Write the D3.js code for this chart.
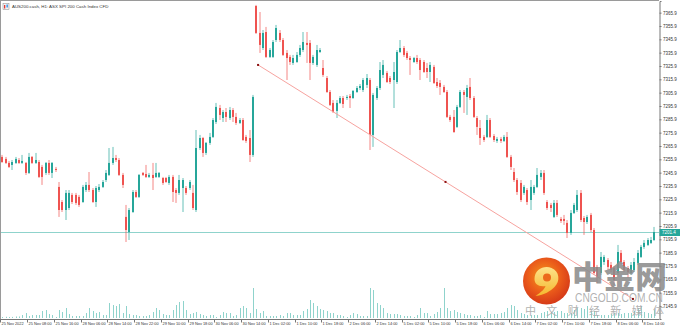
<!DOCTYPE html>
<html><head><meta charset="utf-8">
<script src="https://cdn.jsdelivr.net/npm/d3@7"></script>
<style>html,body{margin:0;padding:0;background:#fff;}svg{display:block;}</style>
</head><body>
<svg id="c" width="680" height="329"></svg>
<script>
const chartTitle = "AUS200.cash, H1:  ASX SPI 200 Cash Index CFD";
const open = [
7257.7,7256.2,7253.2,7251.7,7253.2,7255.4,7253.2,7253.2,7245.7,7257.7,
7253.2,7253.9,7250.2,7245.7,7253.2,7245.7,7248.7,7235.2,7223.9,7217.9,
7219.4,7229.2,7229.2,7227.7,7223.9,7232.9,7236.7,7232.9,7223.9,7232.9,
7235.2,7240.4,7244.2,7253.2,7256.9,7255.4,7244.2,7212.7,7201.4,7216.4,
7231.4,7227.7,7245.7,7244.9,7242.7,7244.2,7242.7,7242.7,7241.9,7241.9,
7238.2,7242.7,7232.9,7230.7,7234.4,7234.4,7234.4,7230.7,7217.9,7264.4,
7271.9,7260.7,7268.2,7272.7,7283.9,7294.4,7286.9,7291.4,7286.9,7292.9,
7287.7,7283.2,7285.4,7272.7,7271.9,7259.2,7370.9,7350.7,7339.4,7351.4,
7332.7,7332.7,7345.4,7350.7,7345.4,7335.7,7332.7,7328.2,7328.9,7334.2,
7337.9,7343.2,7343.2,7328.2,7326.7,7336.4,7324.4,7316.9,7306.4,7298.2,
7292.2,7298.2,7301.9,7301.9,7303.4,7301.9,7306.4,7309.4,7307.9,7311.7,
7315.4,7274.2,7301.9,7309.4,7319.2,7320.7,7316.9,7315.4,7313.9,7336.4,
7339.4,7335.7,7331.9,7328.9,7331.9,7330.4,7328.9,7324.4,7321.4,7325.2,
7313.9,7313.2,7310.2,7306.4,7287.7,7287.7,7280.2,7295.2,7306.4,7302.7,
7310.2,7301.9,7286.9,7279.4,7272.7,7272.7,7285.4,7273.4,7269.7,7271.2,
7269.7,7272.7,7257.7,7246.4,7240.4,7238.2,7230.7,7232.9,7225.4,7230.7,
7235.2,7242.7,7245.7,7223.9,7221.7,7212.7,7223.2,7211.2,7211.2,7208.2,
7200.7,7215.7,7217.9,7230.7,7211.9,7208.9,7214.2,7202.9,7175.2,7170.7,
7178.9,7180.4,7176.7,7174.4,7170.7,7185.7,7178.9,7174.4,7170.7,7172.9,
7178.2,7182.7,7190.2,7191.7,7193.2,7195.4];
const high = [
7259.2,7257.7,7254.7,7255.4,7257.7,7256.9,7259.2,7253.9,7260.7,7258.4,
7260.7,7255.4,7251.7,7253.9,7255.4,7253.9,7250.2,7238.9,7225.4,7232.9,
7232.9,7230.7,7230.7,7229.2,7236.7,7238.9,7246.4,7234.4,7235.9,7237.4,
7240.4,7247.9,7264.4,7265.2,7259.2,7256.9,7245.7,7221.7,7219.4,7232.9,
7232.9,7244.9,7246.4,7251.7,7245.7,7253.2,7253.2,7246.4,7242.7,7242.7,
7244.2,7244.2,7234.4,7244.2,7241.9,7235.9,7240.4,7236.7,7277.9,7274.2,
7272.7,7268.9,7275.7,7286.9,7298.2,7296.7,7292.9,7294.4,7295.2,7294.4,
7290.7,7286.9,7286.9,7274.2,7277.9,7304.2,7371.7,7366.4,7352.9,7355.2,
7339.4,7345.4,7356.7,7352.9,7346.9,7337.9,7334.2,7334.2,7336.4,7341.7,
7351.4,7351.4,7345.4,7334.2,7341.7,7339.4,7330.4,7318.4,7307.9,7300.4,
7300.4,7303.4,7303.4,7304.2,7304.9,7307.9,7310.9,7312.4,7316.9,7319.9,
7316.9,7305.7,7310.9,7328.9,7330.4,7322.2,7318.4,7328.9,7337.9,7345.4,
7340.9,7337.2,7333.4,7332.7,7334.2,7331.9,7330.4,7328.2,7328.9,7326.7,
7316.9,7315.4,7311.7,7307.9,7289.2,7292.9,7296.7,7307.9,7307.9,7311.7,
7316.9,7303.4,7288.4,7285.4,7274.2,7289.2,7286.9,7274.9,7272.7,7272.7,
7274.2,7276.4,7259.2,7249.4,7241.9,7240.4,7236.7,7234.4,7240.4,7236.7,
7249.4,7247.9,7247.9,7225.4,7223.2,7225.4,7225.4,7212.7,7214.2,7210.4,
7217.9,7223.2,7232.9,7232.9,7213.4,7214.2,7215.7,7204.4,7176.7,7186.4,
7184.2,7181.9,7178.9,7175.9,7191.7,7187.9,7180.4,7175.9,7178.9,7181.9,
7187.9,7191.7,7195.4,7196.9,7197.7,7205.2];
const low = [
7253.2,7252.4,7249.4,7247.9,7252.4,7252.4,7252.4,7244.2,7244.9,7252.4,
7252.4,7241.9,7236.7,7244.2,7244.2,7241.9,7246.4,7212.7,7216.4,7210.4,
7217.9,7222.4,7221.7,7220.2,7223.2,7231.4,7231.4,7223.2,7220.2,7231.4,
7234.4,7238.9,7243.4,7251.7,7253.9,7243.4,7234.4,7193.9,7195.4,7215.7,
7226.9,7226.9,7243.4,7241.9,7241.9,7232.9,7241.9,7241.9,7236.7,7238.2,
7236.7,7223.9,7223.2,7229.2,7216.4,7229.2,7232.9,7217.9,7216.4,7262.9,
7257.7,7259.2,7266.7,7271.9,7282.4,7285.4,7283.9,7283.9,7285.4,7283.9,
7281.7,7282.4,7269.7,7268.2,7253.9,7257.7,7349.9,7335.7,7337.9,7331.9,
7331.9,7331.9,7343.9,7343.9,7333.4,7315.4,7326.7,7326.7,7328.2,7332.7,
7336.4,7328.2,7315.4,7326.7,7325.2,7335.7,7317.7,7305.7,7295.9,7290.7,
7286.9,7297.4,7294.4,7300.4,7294.4,7301.2,7305.7,7307.9,7306.4,7309.4,
7262.9,7265.2,7300.4,7307.9,7316.9,7313.2,7312.4,7294.4,7312.4,7335.7,
7332.7,7330.4,7319.2,7328.2,7327.4,7315.4,7320.7,7316.9,7313.9,7312.4,
7309.4,7304.2,7305.7,7286.9,7283.9,7275.7,7279.4,7294.4,7290.7,7289.2,
7300.4,7286.9,7274.2,7266.7,7268.9,7271.9,7271.9,7268.9,7268.2,7268.2,
7268.9,7256.9,7247.9,7238.9,7229.2,7223.9,7229.2,7221.7,7217.9,7229.2,
7234.4,7240.4,7229.2,7217.9,7216.4,7211.9,7212.7,7208.2,7206.7,7196.9,
7199.2,7214.9,7216.4,7208.9,7199.2,7207.4,7201.4,7169.2,7163.2,7169.2,
7176.7,7172.9,7171.4,7161.7,7169.2,7177.4,7171.4,7166.9,7169.2,7171.4,
7176.7,7181.9,7188.7,7190.9,7192.4,7194.7];
const close = [
7253.9,7253.2,7250.2,7253.9,7256.2,7253.2,7254.7,7245.7,7257.7,7253.2,
7255.4,7242.7,7242.7,7253.2,7245.7,7253.2,7247.9,7217.9,7217.9,7230.7,
7230.7,7223.9,7223.2,7221.7,7235.2,7236.7,7232.9,7223.9,7234.4,7235.2,
7238.9,7245.7,7253.2,7256.9,7255.4,7244.2,7236.7,7202.9,7217.9,7231.4,
7227.7,7244.2,7244.2,7242.7,7244.2,7241.9,7245.7,7245.7,7238.2,7238.9,
7242.7,7231.4,7230.7,7240.4,7240.4,7230.7,7238.9,7219.4,7264.4,7271.9,
7260.7,7268.2,7272.7,7285.4,7295.2,7289.2,7291.4,7287.7,7292.9,7287.7,
7283.2,7285.4,7270.4,7269.7,7259.2,7302.7,7350.7,7341.7,7350.7,7332.7,
7337.9,7343.9,7354.4,7345.4,7334.2,7331.9,7328.9,7331.9,7334.2,7339.4,
7343.9,7341.7,7328.2,7332.7,7337.9,7337.9,7319.2,7306.4,7296.7,7291.4,
7298.2,7301.9,7297.4,7302.7,7301.9,7307.2,7309.4,7310.9,7315.4,7316.9,
7274.2,7304.2,7309.4,7322.9,7326.7,7313.9,7313.9,7321.4,7336.4,7339.4,
7334.2,7331.9,7330.4,7331.9,7328.9,7322.9,7321.4,7321.4,7326.7,7313.2,
7310.9,7310.2,7306.4,7287.7,7285.4,7276.4,7295.2,7306.4,7304.2,7309.4,
7301.9,7287.7,7280.2,7271.9,7270.4,7285.4,7272.7,7270.4,7271.2,7269.7,
7272.7,7257.7,7250.2,7240.4,7231.4,7225.4,7235.2,7223.9,7235.2,7235.2,
7244.2,7245.7,7230.7,7219.4,7219.4,7223.2,7214.2,7209.7,7209.7,7200.7,
7215.7,7221.7,7229.2,7210.4,7208.9,7212.7,7202.9,7170.7,7167.7,7182.7,
7182.7,7175.2,7172.9,7165.4,7186.4,7178.9,7172.9,7171.4,7176.7,7178.9,
7185.7,7190.2,7193.2,7195.4,7195.4,7201.4];
const volume = [
100,120,100,110,150,150,300,500,200,300,
300,300,700,800,400,300,100,800,600,1000,
400,200,200,200,200,500,1000,700,500,600,
300,300,1500,1300,1200,1400,500,1200,400,300,
300,200,200,200,300,600,1000,800,400,300,
300,800,1300,1600,1700,800,400,500,600,400,
300,200,300,300,100,300,600,500,500,200,
300,1000,1200,1000,500,3000,900,500,700,200,
200,200,200,300,200,500,500,300,300,300,
700,900,1800,1500,1200,900,800,700,500,500,
300,300,200,100,300,500,400,200,200,200,
3000,2800,1500,1300,1000,500,400,400,400,300,
200,200,200,100,300,1000,500,500,200,400,
600,1000,3000,1000,700,800,600,500,400,300,
300,200,200,300,100,700,400,400,400,500,
600,1000,1300,1200,800,500,400,300,300,300,
300,500,600,700,600,600,700,700,500,500,
500,800,1000,1000,900,1200,700,700,300,300,
300,300,400,500,500,400,500,500,500,700,
1000,1200,600,500,400,800];
const timeLabels = ["25 Nov 2022","25 Nov 08:00","25 Nov 16:00","28 Nov 06:00","28 Nov 14:00","28 Nov 22:00",
"29 Nov 10:00","29 Nov 18:00","30 Nov 06:00","30 Nov 14:00","1 Dec 02:00","1 Dec 10:00","1 Dec 18:00",
"2 Dec 06:00","2 Dec 14:00","5 Dec 02:00","5 Dec 10:00","5 Dec 18:00","6 Dec 06:00","6 Dec 14:00",
"7 Dec 02:00","7 Dec 10:00","7 Dec 18:00","8 Dec 06:00","8 Dec 14:00"];
const timeLabelBars = [0,8,16,24,32,40,48,56,64,72,80,88,96,104,112,120,128,136,144,152,160,168,176,184,192];
const priceTicks = [7365.9,7355.9,7345.9,7335.9,7325.9,7315.9,7305.9,7295.9,7285.9,7275.9,7265.9,7255.9,
7245.9,7235.9,7225.9,7215.9,7205.9,7195.9,7185.9,7175.9,7165.9,7155.9,7145.9];
const trendBars = [76.5, 188.6];
const trendPrices = [7326.7, 7151.2];

const plotL = 1, plotR = 659, plotT = 1, plotB = 319;
const svg = d3.select("#c");
const n = close.length;
const FONT = "Liberation Sans, Arial, sans-serif";

const x = d3.scaleLinear().domain([-0.5, n - 0.5]).range([0.6, 656]);
const y = d3.scaleLinear().domain([7136.15, 7374.65]).range([plotB, plotT]);
const vH = d3.scaleLinear().domain([0, 3000]).range([0, 30]);

const UP = "#26a69a", DN = "#ef5350";

const defs = svg.append("defs");
defs.append("clipPath").attr("id","plot").append("rect")
  .attr("x",plotL).attr("y",plotT).attr("width",plotR-plotL).attr("height",plotB-plotT);

const g = svg.append("g").attr("clip-path","url(#plot)");

// volumes
g.append("g").selectAll("rect").data(volume).join("rect")
  .attr("x",(d,i)=>Math.round(x(i)))
  .attr("width",1)
  .attr("y",d=>plotB - 1 - vH(d))
  .attr("height",d=>vH(d))
  .attr("fill","#8fd3cc");

// bid line
const last = close[n-1];
const yl = Math.round(y(last))+0.5;
g.append("line").attr("x1",plotL).attr("x2",plotR).attr("y1",yl).attr("y2",yl)
  .attr("stroke","#8fd3cc").attr("stroke-width",1);

// candles
const idx = d3.range(n);
const cg = g.append("g");
cg.selectAll("line").data(idx).join("line")
  .attr("x1",i=>Math.round(x(i))).attr("x2",i=>Math.round(x(i)))
  .attr("y1",i=>y(high[i])).attr("y2",i=>y(low[i]))
  .attr("stroke",i=>close[i]>=open[i]?UP:DN)
  .attr("stroke-width",1).attr("stroke-opacity",0.7);
cg.selectAll("rect").data(idx).join("rect")
  .attr("x",i=>Math.round(x(i))-1)
  .attr("width",2)
  .attr("y",i=>y(Math.max(open[i],close[i])))
  .attr("height",i=>Math.max(1,Math.abs(y(open[i])-y(close[i]))))
  .attr("fill",i=>close[i]>=open[i]?UP:DN);

// trendline
const tpts = trendBars.map((b,k)=>[x(b), y(trendPrices[k])]);
g.append("line").attr("x1",tpts[0][0]).attr("y1",tpts[0][1])
  .attr("x2",tpts[1][0]).attr("y2",tpts[1][1])
  .attr("stroke","#f7a39f").attr("stroke-width",1);
const mid = [(tpts[0][0]+tpts[1][0])/2,(tpts[0][1]+tpts[1][1])/2];
[tpts[0], mid, tpts[1]].forEach(p=>{
  g.append("rect").attr("x",p[0]-1).attr("y",p[1]-1).attr("width",2).attr("height",2).attr("fill","#8b1010");
});

// frame
svg.append("line").attr("x1",0.5).attr("x2",0.5).attr("y1",0).attr("y2",plotB).attr("stroke","#9a9a9a");
svg.append("line").attr("x1",0).attr("x2",plotR).attr("y1",0.5).attr("y2",0.5).attr("stroke","#9a9a9a");

// price axis
const yAxis = d3.axisRight(y).tickValues(priceTicks).tickSize(2).tickPadding(1.5).tickFormat(d3.format(".1f"));
const ya = svg.append("g").attr("transform",`translate(${plotR+0.5},0)`).call(yAxis);
ya.select(".domain").attr("stroke","#777");
ya.selectAll(".tick line").attr("stroke","#777");
ya.selectAll("text").attr("font-family",FONT).attr("font-size","4.5px").attr("fill","#333");

// time axis
const xa = svg.append("g").attr("transform",`translate(0,${plotB+0.5})`);
xa.append("line").attr("x1",0).attr("x2",plotR+0.5).attr("stroke","#777");
const tk = xa.selectAll("g").data(timeLabelBars).join("g")
  .attr("transform",d=>`translate(${Math.round(x(d))-1.5},0)`);
tk.append("line").attr("y1",0).attr("y2",3).attr("stroke","#777");
tk.append("text").attr("x",1).attr("y",5.4)
  .attr("font-family",FONT).attr("font-size","3.9px").attr("fill","#333")
  .text((d,i)=>timeLabels[i]);

// current price tag
svg.append("rect").attr("x",plotR+0.5).attr("y",yl-3.5).attr("width",20.5).attr("height",7).attr("fill","#26a69a");
svg.append("text").attr("x",plotR+3).attr("y",yl+1.6).attr("font-family",FONT)
  .attr("font-size","4.5px").attr("fill","#fff").text(d3.format(".1f")(last));

// title
const ic = svg.append("g").attr("transform","translate(3,3.5)");
ic.append("rect").attr("width",6).attr("height",6).attr("fill","#f3f3f3").attr("stroke","#888").attr("stroke-width",0.5);
ic.append("rect").attr("x",1).attr("y",1.5).attr("width",1.3).attr("height",3.5).attr("fill","#e53935");
ic.append("rect").attr("x",3.5).attr("y",1).attr("width",1.3).attr("height",3).attr("fill","#1e88e5");
svg.append("text").attr("x",12).attr("y",8.3).attr("font-family",FONT)
  .attr("font-size","4.4px").attr("fill","#333").text(chartTitle);

// watermark
const rg = defs.append("radialGradient").attr("id","lg").attr("cx","45%").attr("cy","40%").attr("r","60%");
rg.append("stop").attr("offset","0%").attr("stop-color","#f59a1c");
rg.append("stop").attr("offset","60%").attr("stop-color","#ea5a1a");
rg.append("stop").attr("offset","100%").attr("stop-color","#d63a18");
const gg = defs.append("linearGradient").attr("id","gold").attr("x1","0").attr("y1","0").attr("x2","0").attr("y2","1");
gg.append("stop").attr("offset","0%").attr("stop-color","#fde38a");
gg.append("stop").attr("offset","100%").attr("stop-color","#f5b72e");
const logo = svg.append("g").attr("transform","translate(546.5,281)");
logo.append("circle").attr("r",23.5).attr("fill","url(#lg)");
logo.append("path").attr("fill","url(#gold)")
  .attr("d","M-12,-2 C-12,-12 -2,-16 5,-13 C13,-10 14,0 8,6 C4,10 -2,14 -11,15 C-5,11 -2,8 -1,5 C-8,6 -12,3 -12,-2 Z");
logo.append("circle").attr("cx",0.5).attr("cy",-3.5).attr("r",4).attr("fill","#ec6a1b");

svg.append("text").attr("x",572).attr("y",288).attr("font-family","Noto Sans CJK SC, sans-serif")
  .attr("font-weight",900).attr("font-size","31px").attr("fill","#8c8c8c").attr("fill-opacity",0.9)
  .attr("textLength",95).attr("lengthAdjust","spacingAndGlyphs").text("中金网");
svg.append("text").attr("x",575).attr("y",302).attr("font-family",FONT)
  .attr("font-size","12px").attr("fill","#a8a8a8").attr("fill-opacity",0.9)
  .attr("textLength",88).attr("lengthAdjust","spacingAndGlyphs").text("CNGOLD.COM.CN");
svg.append("text").attr("x",525).attr("y",314.5).attr("font-family","Noto Sans CJK SC, sans-serif")
  .attr("font-size","11px").attr("fill","#a8a8a8").attr("fill-opacity",0.9)
  .attr("textLength",139).attr("lengthAdjust","spacing").text("中文财经新媒体");
</script>
</body></html>
